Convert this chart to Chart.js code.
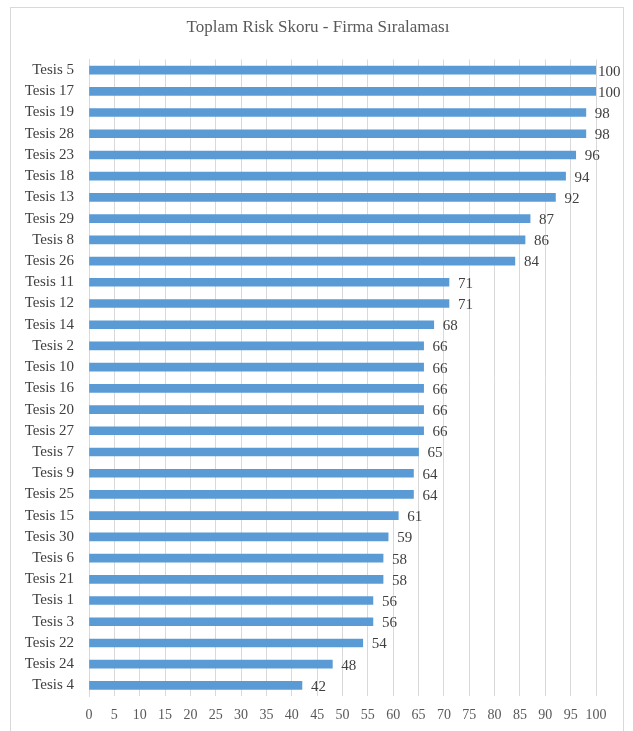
<!DOCTYPE html>
<html>
<head>
<meta charset="utf-8">
<script src="https://cdn.jsdelivr.net/npm/chart.js@4"></script>
<style>
  body { margin: 0; background: #fff; }
  #wrap { position: relative; width: 633px; height: 731px; overflow: hidden; }
  #frame { position: absolute; left: 10px; top: 7px; width: 612px; height: 740px; border: 1px solid #d9d9d9; }
  canvas { position: absolute; left: 0; top: 0; }
</style>
</head>
<body>
<div id="wrap">
  <div id="frame"></div>
  <canvas id="myChart" width="633" height="731"></canvas>
</div>
<script>
// data
var labels = ["Tesis 5", "Tesis 17", "Tesis 19", "Tesis 28", "Tesis 23", "Tesis 18", "Tesis 13", "Tesis 29", "Tesis 8", "Tesis 26",
  "Tesis 11", "Tesis 12", "Tesis 14", "Tesis 2", "Tesis 10", "Tesis 16", "Tesis 20", "Tesis 27", "Tesis 7", "Tesis 9",
  "Tesis 25", "Tesis 15", "Tesis 30", "Tesis 6", "Tesis 21", "Tesis 1", "Tesis 3", "Tesis 22", "Tesis 24", "Tesis 4"];
var scores = [100, 100, 98, 98, 96, 94, 92, 87, 86, 84,
  71, 71, 68, 66, 66, 66, 66, 66, 65, 64,
  64, 61, 59, 58, 58, 56, 56, 54, 48, 42];
var xTicks = [0, 5, 10, 15, 20, 25, 30, 35, 40, 45, 50, 55, 60, 65, 70, 75, 80, 85, 90, 95, 100];
var chartTitle = 'Toplam Risk Skoru - Firma Sıralaması';

var serif = "'Liberation Serif', 'Times New Roman', serif";

// title centred on the whole frame, not the plot
var frameTitle = {
  id: 'frameTitle',
  afterDraw: function (chart) {
    var ctx = chart.ctx;
    ctx.save();
    ctx.font = "17px " + serif;
    ctx.fillStyle = "#595959";
    ctx.textAlign = "center";
    ctx.textBaseline = "middle";
    ctx.fillText(chartTitle, 318, 28);
    ctx.restore();
  }
};

// value labels at the end of each bar
var valueLabels = {
  id: 'valueLabels',
  afterDatasetsDraw: function (chart) {
    var ctx = chart.ctx;
    var meta = chart.getDatasetMeta(0);
    ctx.save();
    ctx.font = "15px " + serif;
    ctx.fillStyle = "#404040";
    ctx.textAlign = "left";
    ctx.textBaseline = "middle";
    meta.data.forEach(function (bar, i) {
      var off = scores[i] >= 100 ? 2 : 9;
      ctx.fillText(scores[i], bar.x + off, bar.y + 1.5);
    });
    ctx.restore();
  }
};

const config = {
  type: 'bar',
  data: {
    labels: labels,
    datasets: [{
      data: scores,
      backgroundColor: '#5b9bd5',
      barThickness: 8
    }]
  },
  options: {
    indexAxis: 'y',
    responsive: false,
    animation: false,
    layout: { padding: { top: 59.5, right: 37, left: 0, bottom: 0 } },
    plugins: {
      legend: { display: false },
      tooltip: { enabled: false },
      title: { display: false }
    },
    scales: {
      x: {
        min: 0,
        max: 100,
        afterBuildTicks: function (scale) {
          scale.ticks = xTicks.map(function (v) { return { value: v }; });
        },
        afterFit: function (scale) { scale.height = 35; },
        grid: { color: '#d9d9d9', drawTicks: false },
        border: { display: false },
        ticks: {
          color: '#595959',
          font: { family: serif, size: 14 },
          padding: 11,
          maxRotation: 0,
          autoSkip: false
        }
      },
      y: {
        afterFit: function (scale) { scale.width = 89; },
        grid: { display: false },
        border: { display: true, color: '#d9d9d9' },
        ticks: {
          color: '#404040',
          font: { family: serif, size: 15 },
          padding: 7,
          autoSkip: false
        }
      }
    }
  },
  plugins: [valueLabels, frameTitle]
};

const myChart = new Chart(document.getElementById('myChart'), config);
</script>
</body>
</html>
